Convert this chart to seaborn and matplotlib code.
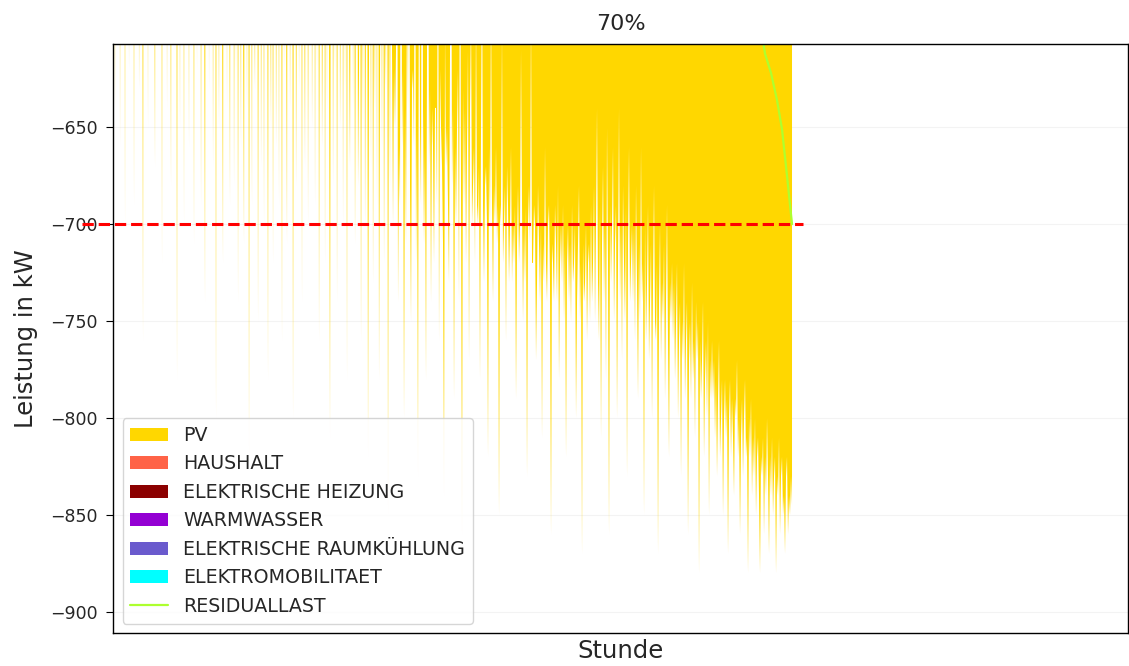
import numpy as np
import pandas as pd
import matplotlib
matplotlib.use("Agg")
import matplotlib.pyplot as plt
import seaborn as sns

# ---------------------------------------------------------------------------
# Stunden nach Residuallast absteigend sortiert (Rang-Index).
# PV-Einspeisung als Betrag in kW, je Abschnitt 40 aufeinanderfolgende Werte.
# ---------------------------------------------------------------------------
pv_a01 = [310, 450, 640, 280, 390, 520, 230, 660, 350, 410,
          480, 300, 700, 260, 540, 370, 620, 430, 250, 500,
          340, 690, 290, 460, 380, 210, 630, 520, 320, 440,
          760, 270, 400, 560, 350, 650, 240, 480, 310, 420]
pv_a02 = [290, 520, 670, 330, 410, 250, 610, 470, 360, 720,
          280, 430, 540, 300, 640, 390, 220, 500, 680, 340,
          450, 270, 590, 360, 780, 310, 420, 650, 260, 480,
          370, 700, 240, 530, 320, 410, 660, 290, 560, 380]
pv_a03 = [430, 710, 300, 390, 620, 250, 470, 350, 690, 410,
          280, 540, 740, 330, 460, 220, 630, 380, 520, 300,
          670, 440, 360, 800, 270, 490, 650, 340, 410, 580,
          720, 260, 450, 380, 640, 310, 530, 690, 290, 420]
pv_a04 = [350, 680, 470, 620, 300, 740, 420, 530, 660, 280,
          590, 710, 380, 450, 640, 330, 820, 410, 500, 690,
          260, 570, 630, 440, 360, 750, 480, 300, 670, 520,
          400, 700, 340, 610, 460, 780, 290, 550, 650, 380]
pv_a05 = [720, 430, 310, 660, 540, 390, 690, 270, 480, 760,
          350, 620, 450, 580, 710, 300, 420, 640, 510, 370,
          800, 460, 280, 680, 560, 340, 630, 490, 410, 740,
          320, 550, 670, 400, 290, 700, 470, 610, 360, 650]
pv_a06 = [520, 380, 690, 440, 620, 300, 760, 500, 410, 660,
          570, 350, 720, 460, 640, 280, 590, 810, 430, 370,
          680, 510, 620, 330, 740, 480, 390, 650, 560, 300,
          700, 450, 630, 410, 780, 340, 600, 670, 490, 360]
pv_a07 = [640, 480, 710, 560, 390, 680, 620, 450, 760, 530,
          650, 340, 700, 590, 420, 820, 610, 500, 670, 380,
          730, 560, 640, 460, 690, 350, 780, 620, 510, 660,
          440, 720, 580, 630, 400, 850, 540, 680, 470, 610]
pv_a08 = [700, 620, 650, 610, 430, 740, 660, 690, 380, 660,
          620, 800, 640, 710, 560, 640, 410, 680, 750, 630,
          620, 660, 450, 720, 650, 830, 500, 650, 690, 420,
          640, 710, 660, 780, 610, 470, 670, 630, 740, 640]
pv_a09 = [660, 720, 640, 640, 690, 480, 760, 620, 650, 670,
          710, 840, 600, 670, 650, 690, 730, 610, 460, 680,
          640, 790, 660, 700, 650, 620, 740, 500, 680, 860,
          630, 690, 640, 720, 660, 610, 770, 640, 590, 700]
pv_a10 = [680, 660, 720, 590, 690, 700, 670, 780, 650, 560,
          690, 730, 680, 670, 700, 820, 660, 700, 580, 690,
          740, 680, 700, 660, 710, 690, 850, 700, 690, 600,
          720, 700, 680, 760, 670, 690, 730, 700, 660, 730]
pv_a11 = [700, 720, 690, 790, 710, 680, 720, 700, 610, 690,
          750, 700, 730, 690, 830, 700, 680, 710, 590, 720,
          720, 690, 700, 770, 730, 680, 710, 740, 700, 810,
          710, 730, 660, 720, 740, 700, 690, 730, 860, 710]
pv_a12 = [720, 740, 690, 710, 740, 680, 780, 720, 700, 730,
          690, 750, 710, 820, 720, 700, 740, 710, 750, 690,
          730, 720, 700, 800, 740, 710, 680, 750, 720, 870,
          710, 740, 730, 700, 760, 720, 710, 750, 690, 740]
pv_a13 = [720, 680, 750, 700, 640, 730, 760, 690, 810, 710,
          670, 740, 700, 780, 650, 720, 860, 690, 730, 700,
          660, 750, 710, 690, 800, 720, 640, 740, 700, 770,
          680, 720, 750, 690, 830, 710, 660, 740, 720, 700]
pv_a14 = [740, 700, 760, 680, 730, 790, 710, 750, 660, 740,
          720, 850, 700, 760, 730, 690, 770, 740, 710, 800,
          730, 680, 750, 760, 720, 870, 740, 700, 770, 730,
          750, 710, 790, 740, 690, 760, 820, 730, 750, 720]
pv_a15 = [760, 730, 780, 750, 720, 800, 760, 740, 830, 750,
          770, 720, 790, 760, 740, 860, 770, 750, 790, 730,
          780, 760, 810, 740, 770, 750, 880, 760, 790, 770,
          740, 820, 780, 760, 800, 750, 850, 770, 790, 760]
pv_a16 = [790, 770, 810, 780, 830, 790, 760, 820, 800, 780,
          850, 800, 780, 810, 790, 870, 800, 780, 820, 790,
          810, 840, 790, 800, 770, 820, 800, 860, 810, 790,
          830, 800, 780, 820, 810, 880, 800, 820, 790, 840]
pv_a17 = [810, 830, 800, 850, 820, 810, 840, 880, 820, 830,
          810, 860, 820, 840, 800, 830, 870, 820, 840, 810,
          850, 830, 820, 880, 830, 840, 810, 860, 830, 820,
          850, 840, 870, 830, 820, 860, 840, 850, 830, 845]

# Verbraucher (positive Leistung) an Stuetzstellen der Sortierung
last_stunde = [0, 170, 340, 510, 679]
haushalt = [260, 220, 190, 160, 120]
elektrische_heizung = [180, 120, 60, 30, 10]
warmwasser = [60, 50, 45, 40, 35]
raumkuehlung = [10, 20, 30, 40, 45]
elektromobilitaet = [90, 70, 60, 50, 40]

# Residuallast (sortiert, absteigend)
rest_stunde = [0, 160, 320, 440, 540, 600, 630, 644, 652, 658, 664, 669, 674, 679]
residuallast_kw = [180, 60, -40, -160, -300, -430, -520, -585, -612, -622,
                   -636, -651, -675, -700]

pv_peak_kw = 1000
einspeisegrenze = 0.70

# ---------------------------------------------------------------------------
pv_betrag = np.array(pv_a01 + pv_a02 + pv_a03 + pv_a04 + pv_a05 + pv_a06 +
                     pv_a07 + pv_a08 + pv_a09 + pv_a10 + pv_a11 + pv_a12 +
                     pv_a13 + pv_a14 + pv_a15 + pv_a16 + pv_a17, dtype=float)
stunde = np.arange(len(pv_betrag))
grenze_kw = -einspeisegrenze * pv_peak_kw

sns.set_style("ticks")
plt.rcParams["font.family"] = ["DejaVu Sans"]

fig = plt.figure(figsize=(11.29, 6.66), dpi=100)
ax = fig.add_axes([0.1001, 0.0495, 0.8990, 0.8845])

farben = {
    "PV": "#FFD700",
    "HAUSHALT": "#FF6347",
    "ELEKTRISCHE HEIZUNG": "#8B0000",
    "WARMWASSER": "#9400D3",
    "ELEKTRISCHE RAUMKÜHLUNG": "#6A5ACD",
    "ELEKTROMOBILITAET": "#00FFFF",
    "RESIDUALLAST": "#ADFF2F",
}
verbraucher = ["HAUSHALT", "ELEKTRISCHE HEIZUNG", "WARMWASSER",
               "ELEKTRISCHE RAUMKÜHLUNG", "ELEKTROMOBILITAET"]

ax.stackplot(stunde, -pv_betrag, colors=[farben["PV"]], labels=["PV"],
             linewidth=0)
ax.stackplot(last_stunde, haushalt, elektrische_heizung, warmwasser,
             raumkuehlung, elektromobilitaet,
             colors=[farben[k] for k in verbraucher], labels=verbraucher,
             linewidth=0)

rest_df = pd.DataFrame({"Stunde": rest_stunde, "Residuallast": residuallast_kw})
sns.lineplot(data=rest_df, x="Stunde", y="Residuallast", ax=ax,
             color=farben["RESIDUALLAST"], linewidth=1.6, label="RESIDUALLAST",
             legend=False)

# Einspeisegrenze
ax.plot([stunde[0] - 31, stunde[-1] + 11], [grenze_kw, grenze_kw],
        color="red", linestyle="--", linewidth=2.2, clip_on=False, zorder=3)

ax.set_xlim(stunde[0], stunde[-1] * 1.4948)
ax.set_ylim(-911, -607)
ax.set_xticks([])
ax.grid(axis="y", alpha=0.22)
for s in ax.spines.values():
    s.set_color("black")
    s.set_linewidth(1.0)
ax.tick_params(axis="y", labelsize=12.5, length=5, pad=6, color="black")

ax.set_title(f"{einspeisegrenze:.0%}", fontsize=16, pad=10)
ax.set_xlabel("Stunde", fontsize=17.5, labelpad=4)
ax.set_ylabel("Leistung in kW", fontsize=17.5, labelpad=9)

handles, labels = ax.get_legend_handles_labels()
ax.legend(handles, labels, loc="lower left", fontsize=13.7, framealpha=0.8,
          borderaxespad=0.5)

fig.savefig("out.png", dpi=100)
